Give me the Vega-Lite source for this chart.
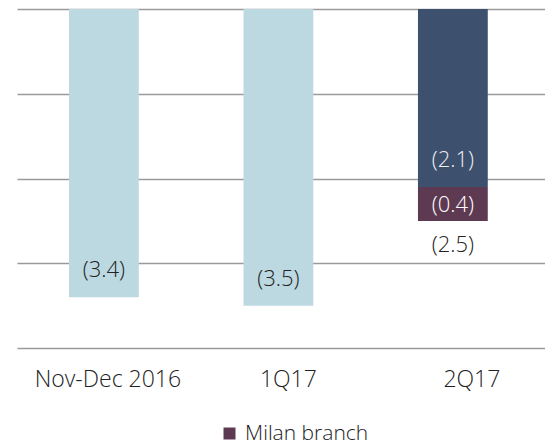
{
  "$schema": "https://vega.github.io/schema/vega-lite/v6.json",
  "width": 528,
  "height": 339,
  "autosize": "none",
  "padding": {"left": 17, "top": 9, "right": 0, "bottom": 96},
  "background": "white",
  "config": {"view": {"stroke": null}, "font": "Open Sans"},
  "datasets": {
    "bars": [
      {"category": "Nov-Dec 2016", "series": "Core", "order": 1, "value": -3.4, "label": "(3.4)"},
      {"category": "1Q17", "series": "Core", "order": 1, "value": -3.5, "label": "(3.5)"},
      {"category": "2Q17", "series": "Other", "order": 1, "value": -2.1, "label": "(2.1)"},
      {"category": "2Q17", "series": "Milan branch", "order": 2, "value": -0.4, "label": "(0.4)"}
    ],
    "totals": [
      {"category": "2Q17", "total": -2.5, "label": "(2.5)"}
    ]
  },
  "layer": [
    {
      "data": {"name": "bars"},
      "transform": [
        {"stack": "value", "groupby": ["category"], "sort": [{"field": "order"}], "as": ["v0", "v1"]}
      ],
      "layer": [
        {
          "mark": {"type": "bar"},
          "encoding": {
            "x": {
              "field": "category", "type": "nominal", "sort": ["Nov-Dec 2016", "1Q17", "2Q17"],
              "scale": {"paddingInner": 0.6, "paddingOuter": 0.313, "align": 0.476},
              "axis": {"title": null, "domain": false, "ticks": false, "labelAngle": 0, "labelFontSize": 23, "labelFont": "Open Sans", "labelFontWeight": 300, "labelColor": "#222222", "labelPadding": 20, "labelBaseline": "top",
                "labelOffset": {"condition": [{"test": "datum.value == '2Q17'", "value": 19}, {"test": "datum.value == '1Q17'", "value": 10}], "value": 4}}
            },
            "y": {
              "field": "v0", "type": "quantitative",
              "scale": {"domain": [-4, 0], "nice": false, "zero": false},
              "axis": {"title": null, "labels": false, "ticks": false, "domain": false, "grid": true, "values": [-4, -3, -2, -1, 0], "gridColor": "#9a9a9a", "gridWidth": 1.5}
            },
            "y2": {"field": "v1"},
            "color": {
              "field": "series", "type": "nominal",
              "scale": {"domain": ["Core", "Other", "Milan branch"], "range": ["#BCD8E1", "#3D506E", "#5E3A52"]},
              "legend": {"values": ["Milan branch"], "title": null, "orient": "none", "legendX": 202, "legendY": 414, "symbolType": "square", "symbolSize": 144, "symbolStrokeWidth": 0, "labelFontSize": 21, "labelFont": "Open Sans", "labelFontWeight": 300, "labelColor": "#222222", "labelOffset": 5}
            }
          }
        },
        {
          "transform": [{"filter": "datum.series != 'Milan branch'"}],
          "mark": {"type": "text", "dy": -27, "fontSize": 22, "fontWeight": 300, "font": "Open Sans"},
          "encoding": {
            "x": {"field": "category", "type": "nominal", "sort": ["Nov-Dec 2016", "1Q17", "2Q17"]},
            "y": {"field": "v1", "type": "quantitative"},
            "text": {"field": "label"},
            "color": {"condition": {"test": "datum.series == 'Other'", "value": "#eeeeee"}, "value": "#222222"}
          }
        },
        {
          "transform": [{"filter": "datum.series == 'Milan branch'"}],
          "mark": {"type": "text", "dy": -16, "fontSize": 22, "fontWeight": 300, "font": "Open Sans", "color": "#ffffff"},
          "encoding": {
            "x": {"field": "category", "type": "nominal", "sort": ["Nov-Dec 2016", "1Q17", "2Q17"]},
            "y": {"field": "v1", "type": "quantitative"},
            "text": {"field": "label"}
          }
        }
      ]
    },
    {
      "data": {"name": "totals"},
      "mark": {"type": "text", "dy": 24, "fontSize": 22, "fontWeight": 300, "font": "Open Sans", "color": "#222222"},
      "encoding": {
        "x": {"field": "category", "type": "nominal", "sort": ["Nov-Dec 2016", "1Q17", "2Q17"]},
        "y": {"field": "total", "type": "quantitative"},
        "text": {"field": "label"}
      }
    }
  ]
}
